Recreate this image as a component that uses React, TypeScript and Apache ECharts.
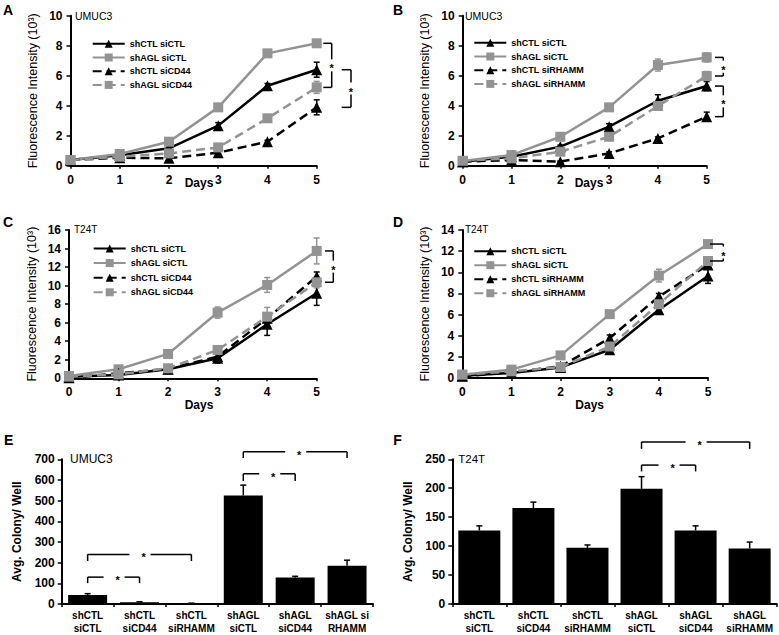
import React, { useEffect, useRef } from 'react';
import * as echarts from 'echarts';

const FONT = '"Liberation Sans", Arial, Helvetica, sans-serif';
const BLACK = '#000000';
const GRAY = '#939393';

const days = [0, 1, 2, 3, 4, 5];

// Panel A — UMUC3, siCD44
const aShCTLsiCTL = [0.38, 0.7, 1.16, 2.67, 5.33, 6.4];
const aShAGLsiCTL = [0.38, 0.78, 1.6, 3.89, 7.49, 8.16];
const aShCTLsiCD44 = [0.38, 0.53, 0.49, 0.87, 1.6, 3.89];
const aShAGLsiCD44 = [0.38, 0.6, 0.82, 1.22, 3.16, 5.22];
const aErrShCTLsiCTL = [0.05, 0.05, 0.1, 0.2, 0.15, 0.5];
const aErrShAGLsiCTL = [0.05, 0.05, 0.1, 0.1, 0.1, 0.1];
const aErrShCTLsiCD44 = [0.05, 0.05, 0.05, 0.1, 0.1, 0.5];
const aErrShAGLsiCD44 = [0.05, 0.05, 0.1, 0.1, 0.1, 0.4];

// Panel B — UMUC3, siRHAMM
const bShCTLsiCTL = [0.27, 0.6, 1.27, 2.6, 4.33, 5.31];
const bShAGLsiCTL = [0.31, 0.71, 1.93, 3.89, 6.71, 7.22];
const bShCTLsiRHAMM = [0.27, 0.38, 0.27, 0.82, 1.82, 3.27];
const bShAGLsiRHAMM = [0.33, 0.49, 0.93, 1.93, 3.98, 5.98];
const bErrShCTLsiCTL = [0.05, 0.05, 0.1, 0.2, 0.4, 0.3];
const bErrShAGLsiCTL = [0.05, 0.05, 0.1, 0.1, 0.4, 0.3];
const bErrShCTLsiRHAMM = [0.05, 0.05, 0.05, 0.1, 0.1, 0.3];
const bErrShAGLsiRHAMM = [0.05, 0.05, 0.1, 0.1, 0.2, 0.3];

// Panel C — T24T, siCD44
const cShCTLsiCTL = [0.18, 0.36, 0.97, 2.16, 5.83, 9.17];
const cShAGLsiCTL = [0.25, 0.97, 2.63, 7.09, 10.07, 13.74];
const cShCTLsiCD44 = [0.07, 0.54, 1.0, 2.34, 6.47, 10.97];
const cShAGLsiCD44 = [0.18, 0.43, 1.08, 3.06, 6.65, 10.36];
const cErrShCTLsiCTL = [0.1, 0.1, 0.1, 0.5, 1.2, 1.3];
const cErrShAGLsiCTL = [0.1, 0.1, 0.2, 0.6, 0.8, 1.4];
const cErrShCTLsiCD44 = [0.1, 0.1, 0.1, 0.3, 0.6, 0.5];
const cErrShAGLsiCD44 = [0.1, 0.1, 0.1, 0.3, 1.0, 0.6];

// Panel D — T24T, siRHAMM
const dShCTLsiCTL = [0.22, 0.47, 1.0, 2.67, 6.45, 9.65];
const dShAGLsiCTL = [0.31, 0.79, 2.14, 6.04, 9.69, 12.67];
const dShCTLsiRHAMM = [0.16, 0.53, 1.1, 3.77, 7.7, 10.7];
const dShAGLsiRHAMM = [0.31, 0.63, 1.04, 2.98, 6.98, 11.07];
const dErrShCTLsiCTL = [0.1, 0.1, 0.1, 0.3, 0.3, 0.7];
const dErrShAGLsiCTL = [0.1, 0.1, 0.1, 0.2, 0.6, 0.2];
const dErrShCTLsiRHAMM = [0.1, 0.1, 0.1, 0.3, 0.3, 0.4];
const dErrShAGLsiRHAMM = [0.1, 0.1, 0.1, 0.2, 0.3, 0.3];

// Panels E & F — colony counts
const barCategoriesE = ['shCTL\nsiCTL', 'shCTL\nsiCD44', 'shCTL\nsiRHAMM', 'shAGL\nsiCTL', 'shAGL\nsiCD44', 'shAGL si\nRHAMM'];
const barCategoriesF = ['shCTL\nsiCTL', 'shCTL\nsiCD44', 'shCTL\nsiRHAMM', 'shAGL\nsiCTL', 'shAGL\nsiCD44', 'shAGL\nsiRHAMM'];
const colonyUMUC3 = [44, 8, 3, 525, 128, 185];
const colonyUMUC3Err = [6, 3, 1, 50, 6, 27];
const colonyT24T = [127, 166, 97, 199, 127, 96];
const colonyT24TErr = [8, 10, 5, 21, 8, 11];
// significance brackets: [from category, to category, bracket level, arm end level]
const sigUMUC3 = [[0, 1, 130, 101], [0, 2, 240, 208], [3, 4, 630, 595], [3, 5, 736, 706]];
const sigT24T = [[3, 4, 240, 229], [3, 5, 280, 268]];

type LineDef = { name: string; values: number[]; errors: number[]; color: string; dashed: boolean; symbol: string };

const mk = (name: string, values: number[], errors: number[], color: string, dashed: boolean, symbol: string): LineDef =>
  ({ name, values, errors, color, dashed, symbol });

const linePanels = [
  {
    grid: { left: 70.5, top: 15.7, width: 246.2, height: 150 }, yMax: 10,
    legend: { left: 91.7, top: 39.3, gap: 4.7 },
    lines: [
      mk('shCTL siCTL', aShCTLsiCTL, aErrShCTLsiCTL, BLACK, false, 'triangle'),
      mk('shAGL siCTL', aShAGLsiCTL, aErrShAGLsiCTL, GRAY, false, 'rect'),
      mk('shCTL siCD44', aShCTLsiCD44, aErrShCTLsiCD44, BLACK, true, 'triangle'),
      mk('shAGL siCD44', aShAGLsiCD44, aErrShAGLsiCD44, GRAY, true, 'rect'),
    ],
    brackets: [[1, 3, 6.6, 15], [0, 2, 25, 34.3]],
  },
  {
    grid: { left: 462.7, top: 15.7, width: 244, height: 150 }, yMax: 10,
    legend: { left: 473.3, top: 38.3, gap: 4.7 },
    lines: [
      mk('shCTL siCTL', bShCTLsiCTL, bErrShCTLsiCTL, BLACK, false, 'triangle'),
      mk('shAGL siCTL', bShAGLsiCTL, bErrShAGLsiCTL, GRAY, false, 'rect'),
      mk('shCTL siRHAMM', bShCTLsiRHAMM, bErrShCTLsiRHAMM, BLACK, true, 'triangle'),
      mk('shAGL siRHAMM', bShAGLsiRHAMM, bErrShAGLsiRHAMM, GRAY, true, 'rect'),
    ],
    brackets: [[1, 3, 8.3, 16.6], [0, 2, 8.3, 16.6]],
  },
  {
    grid: { left: 69, top: 230, width: 247.7, height: 148.3 }, yMax: 16,
    legend: { left: 92.7, top: 244, gap: 5.6 },
    lines: [
      mk('shCTL siCTL', cShCTLsiCTL, cErrShCTLsiCTL, BLACK, false, 'triangle'),
      mk('shAGL siCTL', cShAGLsiCTL, cErrShAGLsiCTL, GRAY, false, 'rect'),
      mk('shCTL siCD44', cShCTLsiCD44, cErrShCTLsiCD44, BLACK, true, 'triangle'),
      mk('shAGL siCD44', cShAGLsiCD44, cErrShAGLsiCD44, GRAY, true, 'rect'),
    ],
    brackets: [[1, 3, 8.3, 16.6]],
  },
  {
    grid: { left: 462.3, top: 230, width: 245.7, height: 148 }, yMax: 14,
    legend: { left: 473.3, top: 246.7, gap: 5 },
    lines: [
      mk('shCTL siCTL', dShCTLsiCTL, dErrShCTLsiCTL, BLACK, false, 'triangle'),
      mk('shAGL siCTL', dShAGLsiCTL, dErrShAGLsiCTL, GRAY, false, 'rect'),
      mk('shCTL siRHAMM', dShCTLsiRHAMM, dErrShCTLsiRHAMM, BLACK, true, 'triangle'),
      mk('shAGL siRHAMM', dShAGLsiRHAMM, dErrShAGLsiRHAMM, GRAY, true, 'rect'),
    ],
    brackets: [[1, 3, 2, 15.3]],
  },
];

const barPanels = [
  { grid: { left: 61.7, top: 459.3, width: 311.3, height: 149 }, yMax: 700, interval: 100, cats: barCategoriesE, values: colonyUMUC3, errors: colonyUMUC3Err, sig: sigUMUC3, barWidth: 39, nameGap: 39 },
  { grid: { left: 452.3, top: 459.3, width: 324.4, height: 148.4 }, yMax: 250, interval: 50, cats: barCategoriesF, values: colonyT24T, errors: colonyT24TErr, sig: sigT24T, barWidth: 42, nameGap: 38 },
];

const seg = (x1: number, y1: number, x2: number, y2: number, color = BLACK, w = 1.5) => ({
  type: 'line', shape: { x1, y1, x2, y2 }, style: { stroke: color, lineWidth: w },
});

const star = (x: number, y: number) => ({
  type: 'text',
  style: { text: '*', x, y, fill: BLACK, font: `bold 11px ${FONT}`, textAlign: 'center', textVerticalAlign: 'middle', align: 'center', verticalAlign: 'middle' },
});

const errRender = (color: string, cap: number, both: boolean) => (params: any, api: any) => {
  const x = api.value(0);
  const y = api.value(1);
  const e = api.value(2);
  const top = api.coord([x, y + e]);
  const bot = api.coord([x, both ? y - e : y]);
  const children: any[] = [seg(top[0], top[1], bot[0], bot[1], color)];
  children.push(seg(top[0] - cap, top[1], top[0] + cap, top[1], color));
  if (both) children.push(seg(bot[0] - cap, bot[1], bot[0] + cap, bot[1], color));
  return { type: 'group', children };
};

function buildOption() {
  const grid: any[] = [];
  const xAxis: any[] = [];
  const yAxis: any[] = [];
  const series: any[] = [];
  const legend: any[] = [];

  const axisLine = { show: true, lineStyle: { color: BLACK, width: 2 } };
  const labelStyle = { color: BLACK, fontSize: 12, fontWeight: 'bold', fontFamily: FONT };

  linePanels.forEach((p, gi) => {
    grid.push({ ...p.grid, containLabel: false });
    xAxis.push({
      type: 'value', gridIndex: gi, min: 0, max: 5, interval: 1,
      axisLine, axisTick: { show: true, length: 3, lineStyle: { color: BLACK, width: 1.5 } },
      axisLabel: { ...labelStyle, margin: 8 }, splitLine: { show: false },
    });
    yAxis.push({
      type: 'value', gridIndex: gi, min: 0, max: p.yMax, interval: 2,
      axisLine, axisTick: { show: true, length: 4, lineStyle: { color: BLACK, width: 1.5 } },
      axisLabel: { ...labelStyle, margin: 8 }, splitLine: { show: false },
      name: 'Fluorescence Intensity (10³)', nameLocation: 'middle', nameGap: 31, nameRotate: 90,
      nameTextStyle: { color: BLACK, fontSize: 12.5, fontFamily: FONT },
    });
    p.lines.forEach((l) => {
      series.push({
        type: 'custom', xAxisIndex: gi, yAxisIndex: gi, silent: true, z: 1, clip: false,
        data: days.map((d, i) => [d, l.values[i], l.errors[i]]),
        renderItem: errRender(l.color, 3, true),
      });
    });
    p.lines.forEach((l) => {
      series.push({
        type: 'line', name: l.name, xAxisIndex: gi, yAxisIndex: gi, z: 3,
        data: days.map((d, i) => [d, l.values[i]]),
        symbol: l.symbol, symbolSize: l.symbol === 'triangle' ? 11 : 10, showSymbol: true,
        itemStyle: { color: l.color },
        lineStyle: { color: l.color, width: 2.5, type: l.dashed ? [9, 5] : 'solid' },
      });
    });
    const last = days.length - 1;
    const arms = p.brackets.map((b) => [b[2], b[3]]);
    series.push({
      type: 'custom', xAxisIndex: gi, yAxisIndex: gi, silent: true, clip: false, z: 4,
      data: p.brackets.map((b) => [days[last], p.lines[b[0]].values[last], p.lines[b[1]].values[last]]),
      renderItem: (params: any, api: any) => {
        const [a0, a1] = arms[params.dataIndex];
        const top = api.coord([api.value(0), api.value(1)]);
        const bot = api.coord([api.value(0), api.value(2)]);
        const xs = top[0] + a0;
        const xe = top[0] + a1;
        const mid = (top[1] + bot[1]) / 2;
        return {
          type: 'group',
          children: [
            seg(xs, top[1], xe, top[1]),
            seg(xe, top[1], xe, mid - 6),
            seg(xe, mid + 6, xe, bot[1]),
            seg(xs, bot[1], xe, bot[1]),
            star(xe, mid + 3),
          ],
        };
      },
    });
    legend.push({
      orient: 'vertical', left: p.legend.left, top: p.legend.top, padding: 0,
      itemWidth: 32, itemHeight: 10, itemGap: p.legend.gap, selectedMode: false,
      textStyle: { color: BLACK, fontSize: 9, fontWeight: 'bold', fontFamily: FONT },
      data: p.lines.map((l) => l.name),
    });
  });

  barPanels.forEach((p, bi) => {
    const gi = linePanels.length + bi;
    grid.push({ ...p.grid, containLabel: false });
    xAxis.push({
      type: 'category', gridIndex: gi, data: p.cats, boundaryGap: true,
      axisLine, axisTick: { show: true, length: 3, alignWithLabel: false, lineStyle: { color: BLACK, width: 1.5 } },
      axisLabel: { color: BLACK, fontSize: 10, fontWeight: 'bold', fontFamily: FONT, margin: 5, lineHeight: 13, interval: 0 },
    });
    yAxis.push({
      type: 'value', gridIndex: gi, min: 0, max: p.yMax, interval: p.interval,
      axisLine, axisTick: { show: true, length: 4, lineStyle: { color: BLACK, width: 1.5 } },
      axisLabel: { ...labelStyle, margin: 7 }, splitLine: { show: false },
      name: 'Avg. Colony/ Well', nameLocation: 'middle', nameGap: p.nameGap, nameRotate: 90,
      nameTextStyle: { color: BLACK, fontSize: 12, fontWeight: 'bold', fontFamily: FONT },
    });
    series.push({
      type: 'bar', xAxisIndex: gi, yAxisIndex: gi, data: p.values, barWidth: p.barWidth,
      itemStyle: { color: BLACK }, z: 2,
    });
    series.push({
      type: 'custom', xAxisIndex: gi, yAxisIndex: gi, silent: true, z: 3, clip: false,
      data: p.values.map((v, i) => [i, v, p.errors[i]]),
      renderItem: errRender(BLACK, 3, false),
    });
    series.push({
      type: 'custom', xAxisIndex: gi, yAxisIndex: gi, silent: true, z: 4, clip: false,
      data: p.sig,
      renderItem: (params: any, api: any) => {
        const l = api.coord([api.value(0), api.value(2)]);
        const r = api.coord([api.value(1), api.value(2)]);
        const lb = api.coord([api.value(0), api.value(3)]);
        const y = l[1];
        const yb = lb[1];
        const mid = (l[0] + r[0]) / 2;
        return {
          type: 'group',
          children: [
            seg(l[0], yb, l[0], y),
            seg(l[0], y, mid - 10, y),
            star(mid + 4, y + 3),
            seg(mid + 11, y, r[0], y),
            seg(r[0], y, r[0], yb),
          ],
        };
      },
    });
  });

  const txt = (text: string, x: number, y: number, size: number, weight: string, align = 'left') => ({
    type: 'text', x, y, silent: true,
    style: { text, fill: BLACK, font: `${weight} ${size}px ${FONT}`, textAlign: align, textVerticalAlign: 'middle', align, verticalAlign: 'middle' },
  });

  const graphic = [
    txt('A', 8, 9.5, 14, 'bold', 'center'),
    txt('B', 398, 9.5, 14, 'bold', 'center'),
    txt('C', 8, 222.3, 14, 'bold', 'center'),
    txt('D', 398, 222.3, 14, 'bold', 'center'),
    txt('E', 8.7, 440.3, 14, 'bold', 'center'),
    txt('F', 397.5, 440, 14, 'bold', 'center'),
    txt('UMUC3', 75, 15.7, 10.5, 'normal'),
    txt('UMUC3', 465, 15.7, 10.5, 'normal'),
    txt('T24T', 74, 229, 10, 'normal'),
    txt('T24T', 465, 229, 10, 'normal'),
    txt('UMUC3', 70, 459, 12, 'normal'),
    txt('T24T', 458.3, 459, 11.5, 'normal'),
    txt('Days', 199, 183, 12, 'bold', 'center'),
    txt('Days', 589, 183, 12, 'bold', 'center'),
    txt('Days', 199, 405, 12, 'bold', 'center'),
    txt('Days', 589.7, 405, 12, 'bold', 'center'),
  ];

  return {
    animation: false,
    backgroundColor: '#ffffff',
    textStyle: { fontFamily: FONT },
    grid, xAxis, yAxis, series, legend, graphic,
  };
}

export default function App() {
  const ref = useRef<HTMLDivElement>(null);
  useEffect(() => {
    if (!ref.current) return;
    const chart = echarts.init(ref.current, null, { renderer: 'svg' });
    chart.setOption(buildOption() as any);
    return () => chart.dispose();
  }, []);
  return <div ref={ref} style={{ position: 'fixed', left: 0, top: 0, width: 779, height: 635 }} />;
}
